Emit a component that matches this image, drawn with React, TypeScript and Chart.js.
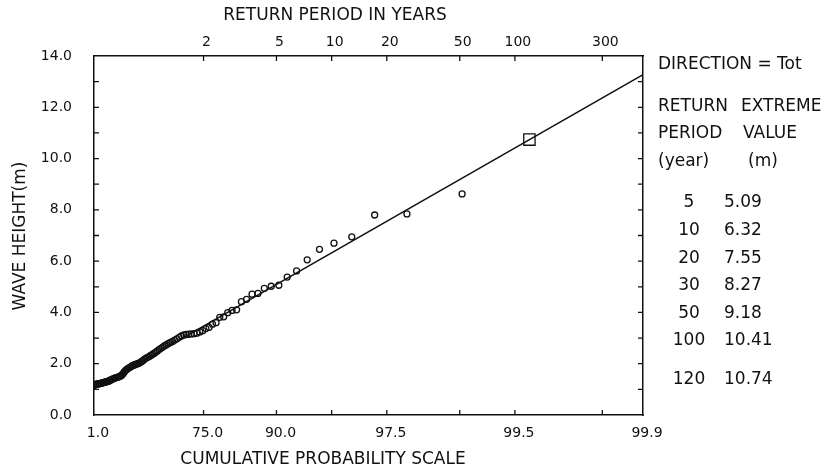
import React, { useEffect, useRef } from 'react';
import { Chart, registerables } from 'chart.js';

Chart.register(...registerables);

// Sorted annual-series wave heights (m), plotted at rank plotting positions
const waveHeights = [
  1.17, 1.18, 1.19, 1.20, 1.20, 1.21, 1.22, 1.22, 1.23, 1.24,
  1.25, 1.26, 1.27, 1.28, 1.29, 1.30, 1.31, 1.32, 1.34, 1.36,
  1.38, 1.40, 1.41, 1.43, 1.45, 1.46, 1.47, 1.49, 1.50, 1.52,
  1.55, 1.60, 1.66, 1.72, 1.76, 1.80, 1.83, 1.86, 1.89, 1.92,
  1.94, 1.96, 1.98, 2.00, 2.02, 2.05, 2.09, 2.13, 2.18, 2.22,
  2.25, 2.28, 2.32, 2.36, 2.40, 2.45, 2.50, 2.55, 2.60, 2.65,
  2.70, 2.74, 2.79, 2.83, 2.87, 2.92, 2.97, 3.03, 3.08, 3.12,
  3.14, 3.15, 3.16, 3.17, 3.19, 3.24, 3.29, 3.37, 3.42, 3.54,
  3.60, 3.81, 3.83, 3.99, 4.08, 4.10, 4.42, 4.51, 4.71, 4.74,
  4.94, 5.02, 5.06, 5.38, 5.62, 6.05, 6.46, 6.70, 6.95, 7.80,
  7.84, 8.62,
];

// Fitted distribution line (cumulative probability %, height m)
const fitLineProb = [1.0, 99.9];
const fitLineHeight = [1.02, 13.27];

// Highlighted design value
const designReturnYears = [120];
const designHeight = [10.74];

const EVENTS_PER_YEAR = 2;

// Axis ticks
const bottomTickProb = [1.0, 75.0, 90.0, 95.0, 97.5, 99.0, 99.5, 99.8333, 99.9];
const bottomTickLabels = ['1.0', '75.0', '90.0', '', '97.5', '', '99.5', '', '99.9'];
const topTickYears = [2, 5, 10, 20, 50, 100, 300];
const topTickLabels = ['2', '5', '10', '20', '50', '100', '300'];
const yMin = 0;
const yMax = 14;

// Side table
const tableReturnPeriods = ['5', '10', '20', '30', '50', '100', '120'];
const tableExtremeValues = ['5.09', '6.32', '7.55', '8.27', '9.18', '10.41', '10.74'];

const FONT = '"DejaVu Sans", sans-serif';
const INK = '#111';

const rv = (pPercent: number) => -Math.log(1 - pPercent / 100);
const probFromYears = (t: number) => 100 * (1 - 1 / (EVENTS_PER_YEAR * t));

const inwardTicks = {
  id: 'inwardTicks',
  afterDraw(chart: any) {
    const ctx = chart.ctx;
    const { left, right, top, bottom } = chart.chartArea;
    const L = 5;
    ctx.save();
    ctx.strokeStyle = INK;
    ctx.lineWidth = 1.3;
    ctx.beginPath();
    const sx = chart.scales.x;
    sx.ticks.forEach((t: any) => {
      const px = sx.getPixelForValue(t.value);
      if (px <= left + 1 || px >= right - 1) return;
      ctx.moveTo(px, bottom);
      ctx.lineTo(px, bottom - L);
    });
    const sx2 = chart.scales.x2;
    sx2.ticks.forEach((t: any) => {
      const px = sx2.getPixelForValue(t.value);
      if (px <= left + 1 || px >= right - 1) return;
      ctx.moveTo(px, top);
      ctx.lineTo(px, top + L);
    });
    const sy = chart.scales.y;
    sy.ticks.forEach((t: any) => {
      const py = sy.getPixelForValue(t.value);
      if (py <= top + 1 || py >= bottom - 1) return;
      ctx.moveTo(left, py);
      ctx.lineTo(left + L, py);
    });
    const sy2 = chart.scales.y2;
    sy2.ticks.forEach((t: any) => {
      const py = sy2.getPixelForValue(t.value);
      if (py <= top + 1 || py >= bottom - 1) return;
      ctx.moveTo(right, py);
      ctx.lineTo(right - L, py);
    });
    ctx.stroke();
    ctx.restore();
  },
};

const textLayer = {
  id: 'textLayer',
  afterDraw(chart: any) {
    const ctx = chart.ctx;
    ctx.save();
    ctx.fillStyle = INK;
    ctx.textBaseline = 'middle';
    ctx.font = `17px ${FONT}`;
    ctx.textAlign = 'center';
    ctx.fillText('RETURN PERIOD IN YEARS', 335, 16);
    ctx.fillText('CUMULATIVE PROBABILITY SCALE', 323, 460);
    ctx.save();
    ctx.translate(21, 236);
    ctx.rotate(-Math.PI / 2);
    ctx.fillText('WAVE HEIGHT(m)', 0, 0);
    ctx.restore();

    ctx.textAlign = 'left';
    ctx.fillText('DIRECTION = Tot', 658, 65);
    ctx.fillText('RETURN', 658, 107);
    ctx.fillText('EXTREME', 741, 107);
    ctx.fillText('PERIOD', 658, 134);
    ctx.fillText('VALUE', 743, 134);
    ctx.fillText('(year)', 658, 162);
    ctx.fillText('(m)', 748, 162);

    tableReturnPeriods.forEach((rp, i) => {
      const y = 203 + i * 27.6 + (i === tableReturnPeriods.length - 1 ? 11 : 0);
      ctx.textAlign = 'center';
      ctx.fillText(rp, 689, y);
      ctx.textAlign = 'left';
      ctx.fillText(tableExtremeValues[i], 724, y);
    });
    ctx.restore();
  },
};

export default function App() {
  const ref = useRef<HTMLCanvasElement>(null);

  useEffect(() => {
    const n = waveHeights.length;
    const scatterData = waveHeights.map((h, i) => ({
      x: rv((100 * (i + 1)) / (n + 1)),
      y: h,
    }));
    const lineData = fitLineProb.map((p, i) => ({ x: rv(p), y: fitLineHeight[i] }));
    const designData = designReturnYears.map((t, i) => ({
      x: rv(probFromYears(t)),
      y: designHeight[i],
    }));
    const xMin = rv(bottomTickProb[0]);
    const xMax = rv(bottomTickProb[bottomTickProb.length - 1]);
    const tickFont = { family: FONT, size: 14 };

    const chart = new Chart(ref.current!, {
      type: 'scatter',
      data: {
        datasets: [
          {
            type: 'line',
            data: lineData,
            borderColor: INK,
            borderWidth: 1.4,
            pointRadius: 0,
            fill: false,
            order: 3,
          } as any,
          {
            data: scatterData,
            pointStyle: 'circle',
            pointRadius: 3,
            borderColor: INK,
            borderWidth: 1.3,
            backgroundColor: 'rgba(0,0,0,0)',
            order: 2,
          },
          {
            data: designData,
            pointStyle: 'rect',
            pointRadius: 8,
            borderColor: INK,
            borderWidth: 1.3,
            backgroundColor: 'rgba(0,0,0,0)',
            order: 1,
          },
        ],
      },
      options: {
        responsive: false,
        animation: false,
        devicePixelRatio: 1,
        layout: { padding: 0 },
        plugins: {
          legend: { display: false },
          tooltip: { enabled: false },
          title: { display: false },
        },
        scales: {
          x: {
            type: 'linear',
            position: 'bottom',
            min: xMin,
            max: xMax,
            afterBuildTicks: (s: any) => {
              s.ticks = bottomTickProb.map((p) => ({ value: rv(p) }));
            },
            afterFit: (s: any) => {
              s.height = 58;
            },
            grid: { display: false, drawTicks: false },
            border: { display: true, color: INK, width: 1.5 },
            ticks: {
              autoSkip: false,
              maxRotation: 0,
              minRotation: 0,
              padding: 10,
              labelOffset: 4,
              color: INK,
              font: tickFont,
              callback: (_v: any, i: number) => bottomTickLabels[i],
            },
          },
          x2: {
            type: 'linear',
            position: 'top',
            min: xMin,
            max: xMax,
            afterBuildTicks: (s: any) => {
              s.ticks = topTickYears.map((t) => ({ value: rv(probFromYears(t)) }));
            },
            afterFit: (s: any) => {
              s.height = 56;
            },
            grid: { display: false, drawTicks: false },
            border: { display: true, color: INK, width: 1.5 },
            ticks: {
              autoSkip: false,
              maxRotation: 0,
              minRotation: 0,
              padding: 5,
              labelOffset: 3,
              color: INK,
              font: tickFont,
              callback: (_v: any, i: number) => topTickLabels[i],
            },
          },
          y: {
            type: 'linear',
            position: 'left',
            min: yMin,
            max: yMax,
            afterFit: (s: any) => {
              s.width = 94;
            },
            grid: { display: false, drawTicks: false },
            border: { display: true, color: INK, width: 1.5 },
            ticks: {
              stepSize: 1,
              autoSkip: false,
              padding: 22,
              color: INK,
              font: tickFont,
              callback: (v: any) => (Number(v) % 2 === 0 ? Number(v).toFixed(1) : ''),
            },
          },
          y2: {
            type: 'linear',
            position: 'right',
            min: yMin,
            max: yMax,
            afterFit: (s: any) => {
              s.width = 194;
            },
            grid: { display: false, drawTicks: false },
            border: { display: true, color: INK, width: 1.5 },
            ticks: { stepSize: 1, display: false },
          },
        },
      },
      plugins: [inwardTicks, textLayer],
    });
    return () => chart.destroy();
  }, []);

  return (
    <div
      style={{
        position: 'fixed',
        left: 0,
        top: 0,
        width: 837,
        height: 473,
        background: '#fff',
      }}
    >
      <canvas
        ref={ref}
        width={837}
        height={473}
        style={{ display: 'block', width: 837, height: 473 }}
      />
    </div>
  );
}
